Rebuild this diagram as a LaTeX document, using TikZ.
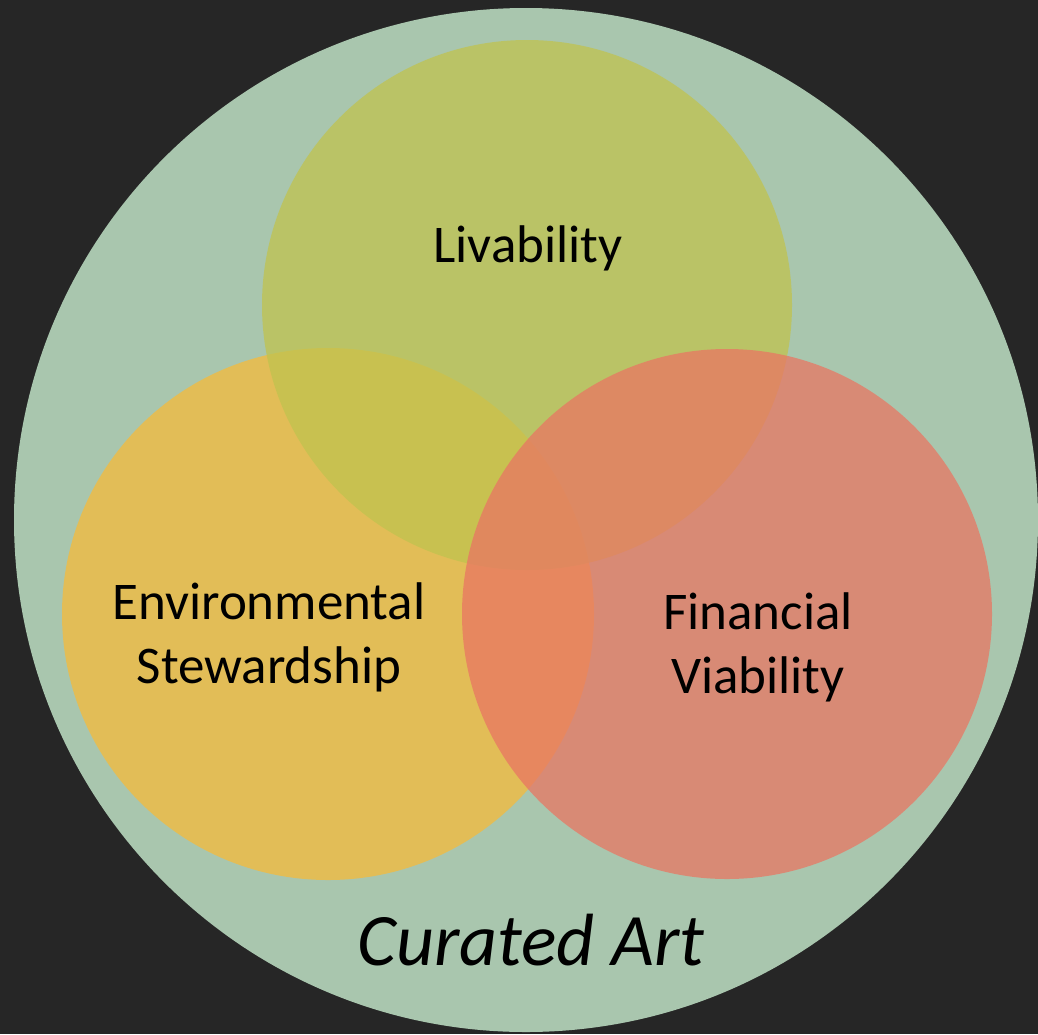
\documentclass[tikz,border=0pt]{standalone}
\usepackage{fontspec}
\setmainfont{Carlito}
\definecolor{bgdark}{HTML}{262626}
\definecolor{artgreen}{HTML}{A9C6AE}
\definecolor{livgreen}{HTML}{C0C34E}
\definecolor{envyellow}{HTML}{F6BB3B}
\definecolor{finred}{HTML}{E97663}
\begin{document}
\begin{tikzpicture}[x=1pt, y=-1pt,
  ring/.style={circle, draw=none, inner sep=0pt, minimum size=#1},
  venntext/.style={font=\fontsize{53}{64}\selectfont, align=center, inner sep=0pt}]
\useasboundingbox[fill=bgdark] (0,0) rectangle (1038,1034);
\node[ring=1024pt, fill=artgreen] (C_art) at (526,520) {};
\node[ring=532pt, fill=envyellow, fill opacity=0.75] (C_env) at (328,614) {};
\node[ring=530pt, fill=livgreen, fill opacity=0.75] (C_liv) at (527,305) {};
\node[ring=530pt, fill=finred, fill opacity=0.75] (C_fin) at (727,614) {};
\node[venntext] (T_liv) at (528,248) {Livability};
\node[venntext] (T_env) at (269,637) {Environmental\\Stewardship};
\node[venntext] (T_fin) at (758,647) {Financial\\Viability};
\node[font=\fontsize{74}{88}\selectfont\itshape, inner sep=0pt] (T_art) at (531,940) {Curated Art};
\end{tikzpicture}
\end{document}
